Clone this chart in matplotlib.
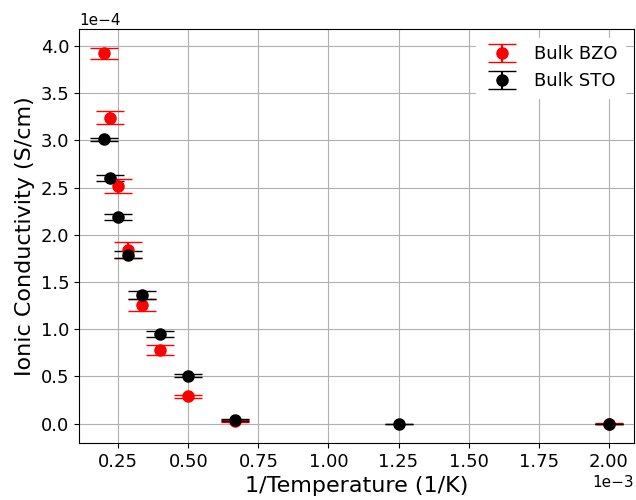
import matplotlib
matplotlib.use("Agg")
import matplotlib.pyplot as plt
import numpy as np

# Inverse temperature (1/K)
x_bzo = [1/5000, 1/4500, 1/4000, 1/3500, 1/3000, 1/2500, 1/2000, 1/1500, 1/500]
x_sto = [1/5000, 1/4500, 1/4000, 1/3500, 1/3000, 1/2500, 1/2000, 1/1500, 1/800, 1/500]

# Ionic conductivity (S/cm) in units of 1e-4
bzo_vals = [3.92, 3.24, 2.52, 1.84, 1.26, 0.78, 0.29, 0.03, 0.0]
bzo_err = [0.06, 0.07, 0.075, 0.085, 0.065, 0.05, 0.018, 0.01, 0.005]
sto_vals = [3.01, 2.60, 2.19, 1.79, 1.36, 0.95, 0.51, 0.04, 0.0, 0.0]
sto_err = [0.02, 0.03, 0.035, 0.035, 0.04, 0.035, 0.02, 0.01, 0.0, 0.0]

fig = plt.figure(figsize=(6.36, 5.0), dpi=100)
ax = fig.add_axes([79/636, 1-443/500, (634-79)/636, (443-29)/500])

ax.errorbar(x_bzo, np.array(bzo_vals)*1e-4, yerr=np.array(bzo_err)*1e-4,
            fmt='o', color='red', markersize=8, capsize=10, label='Bulk BZO')
ax.errorbar(x_sto, np.array(sto_vals)*1e-4, yerr=np.array(sto_err)*1e-4,
            fmt='o', color='black', markersize=8, capsize=10, label='Bulk STO')

ax.ticklabel_format(style='sci', axis='both', scilimits=(0, 0))
ax.set_xlabel('1/Temperature (1/K)', fontsize=16)
ax.set_ylabel('Ionic Conductivity (S/cm)', fontsize=16)
ax.tick_params(labelsize=13)
ax.xaxis.get_offset_text().set_fontsize(11)
ax.yaxis.get_offset_text().set_fontsize(11)
ax.grid(True)
leg = ax.legend(fontsize=13, framealpha=1)
leg.get_frame().set_edgecolor('white')

fig.savefig('out.png', dpi=100)
